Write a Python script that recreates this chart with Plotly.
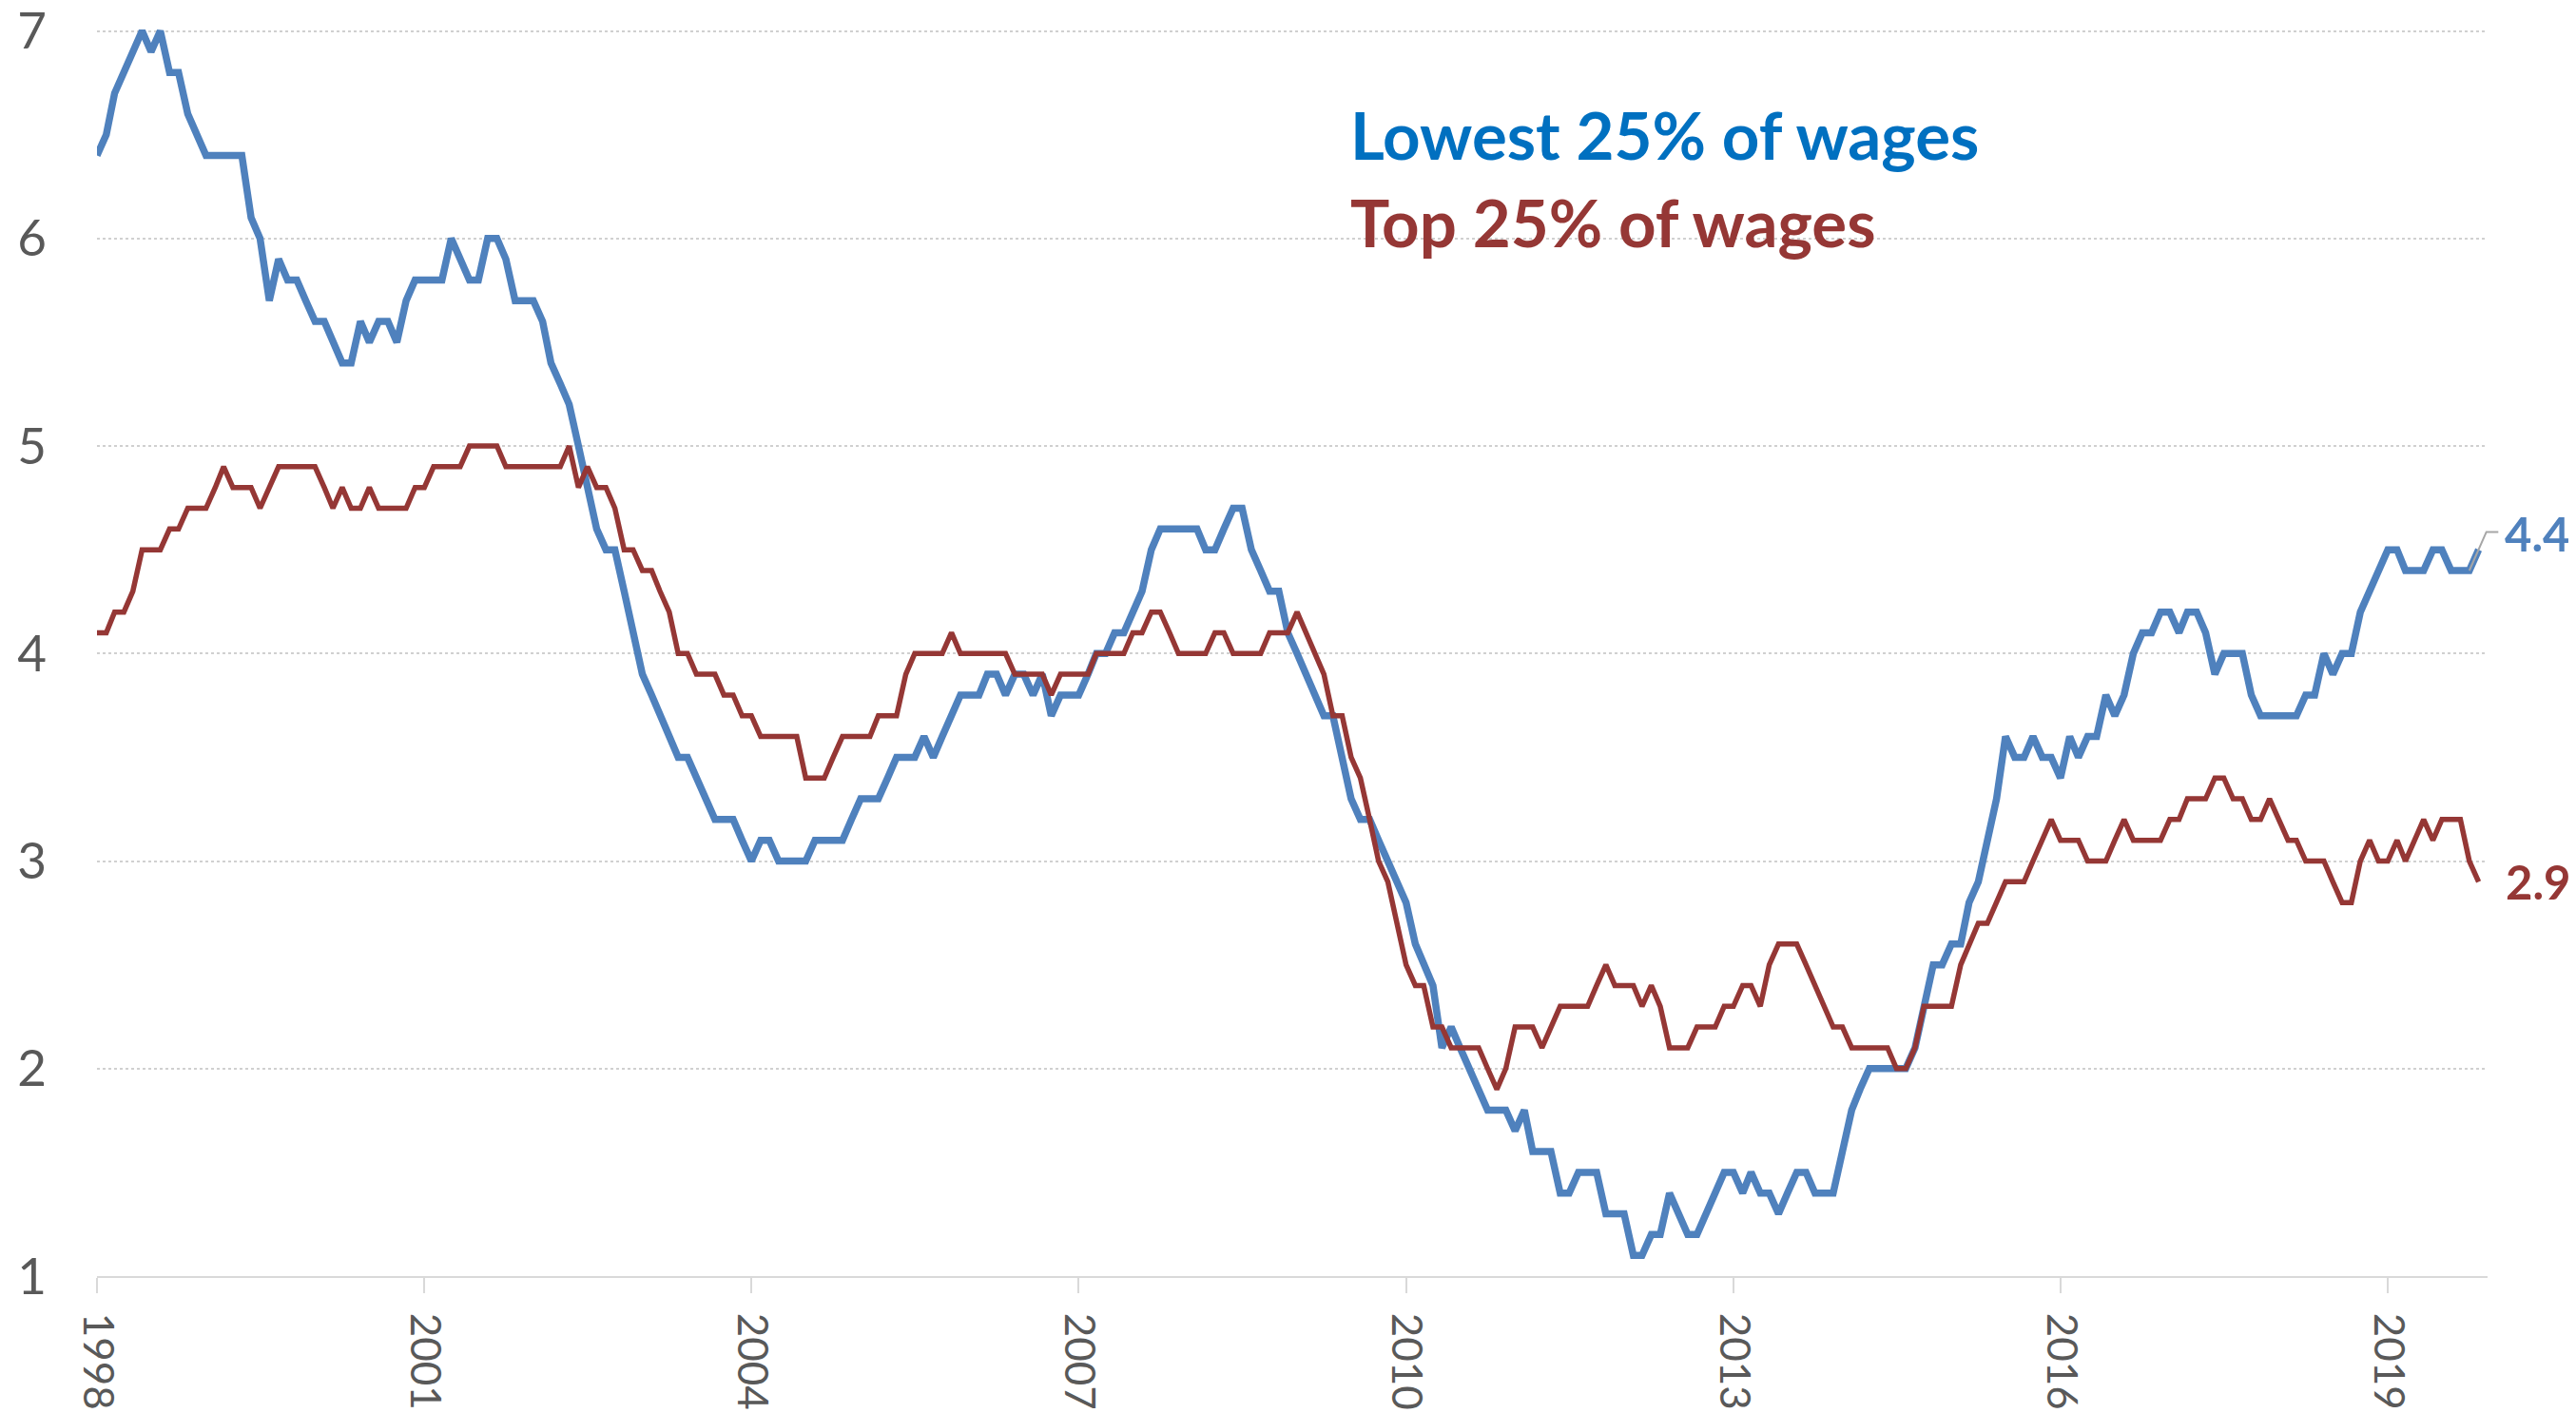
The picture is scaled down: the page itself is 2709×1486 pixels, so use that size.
import pandas as pd
import plotly.graph_objects as go

# monthly series, Jan 1998 - Nov 2019
months = pd.date_range("1998-01-01", periods=263, freq="MS")

lowest_25 = [
    6.4, 6.5, 6.7, 6.8, 6.9, 7.0, 6.9, 7.0, 6.8, 6.8, 6.6, 6.5,  # 1998
    6.4, 6.4, 6.4, 6.4, 6.4, 6.1, 6.0, 5.7, 5.9, 5.8, 5.8, 5.7,  # 1999
    5.6, 5.6, 5.5, 5.4, 5.4, 5.6, 5.5, 5.6, 5.6, 5.5, 5.7, 5.8,  # 2000
    5.8, 5.8, 5.8, 6.0, 5.9, 5.8, 5.8, 6.0, 6.0, 5.9, 5.7, 5.7,  # 2001
    5.7, 5.6, 5.4, 5.3, 5.2, 5.0, 4.8, 4.6, 4.5, 4.5, 4.3, 4.1,  # 2002
    3.9, 3.8, 3.7, 3.6, 3.5, 3.5, 3.4, 3.3, 3.2, 3.2, 3.2, 3.1,  # 2003
    3.0, 3.1, 3.1, 3.0, 3.0, 3.0, 3.0, 3.1, 3.1, 3.1, 3.1, 3.2,  # 2004
    3.3, 3.3, 3.3, 3.4, 3.5, 3.5, 3.5, 3.6, 3.5, 3.6, 3.7, 3.8,  # 2005
    3.8, 3.8, 3.9, 3.9, 3.8, 3.9, 3.9, 3.8, 3.9, 3.7, 3.8, 3.8,  # 2006
    3.8, 3.9, 4.0, 4.0, 4.1, 4.1, 4.2, 4.3, 4.5, 4.6, 4.6, 4.6,  # 2007
    4.6, 4.6, 4.5, 4.5, 4.6, 4.7, 4.7, 4.5, 4.4, 4.3, 4.3, 4.1,  # 2008
    4.0, 3.9, 3.8, 3.7, 3.7, 3.5, 3.3, 3.2, 3.2, 3.1, 3.0, 2.9,  # 2009
    2.8, 2.6, 2.5, 2.4, 2.1, 2.2, 2.1, 2.0, 1.9, 1.8, 1.8, 1.8,  # 2010
    1.7, 1.8, 1.6, 1.6, 1.6, 1.4, 1.4, 1.5, 1.5, 1.5, 1.3, 1.3,  # 2011
    1.3, 1.1, 1.1, 1.2, 1.2, 1.4, 1.3, 1.2, 1.2, 1.3, 1.4, 1.5,  # 2012
    1.5, 1.4, 1.5, 1.4, 1.4, 1.3, 1.4, 1.5, 1.5, 1.4, 1.4, 1.4,  # 2013
    1.6, 1.8, 1.9, 2.0, 2.0, 2.0, 2.0, 2.0, 2.1, 2.3, 2.5, 2.5,  # 2014
    2.6, 2.6, 2.8, 2.9, 3.1, 3.3, 3.6, 3.5, 3.5, 3.6, 3.5, 3.5,  # 2015
    3.4, 3.6, 3.5, 3.6, 3.6, 3.8, 3.7, 3.8, 4.0, 4.1, 4.1, 4.2,  # 2016
    4.2, 4.1, 4.2, 4.2, 4.1, 3.9, 4.0, 4.0, 4.0, 3.8, 3.7, 3.7,  # 2017
    3.7, 3.7, 3.7, 3.8, 3.8, 4.0, 3.9, 4.0, 4.0, 4.2, 4.3, 4.4,  # 2018
    4.5, 4.5, 4.4, 4.4, 4.4, 4.5, 4.5, 4.4, 4.4, 4.4, 4.5,       # 2019
]

top_25 = [
    4.1, 4.1, 4.2, 4.2, 4.3, 4.5, 4.5, 4.5, 4.6, 4.6, 4.7, 4.7,  # 1998
    4.7, 4.8, 4.9, 4.8, 4.8, 4.8, 4.7, 4.8, 4.9, 4.9, 4.9, 4.9,  # 1999
    4.9, 4.8, 4.7, 4.8, 4.7, 4.7, 4.8, 4.7, 4.7, 4.7, 4.7, 4.8,  # 2000
    4.8, 4.9, 4.9, 4.9, 4.9, 5.0, 5.0, 5.0, 5.0, 4.9, 4.9, 4.9,  # 2001
    4.9, 4.9, 4.9, 4.9, 5.0, 4.8, 4.9, 4.8, 4.8, 4.7, 4.5, 4.5,  # 2002
    4.4, 4.4, 4.3, 4.2, 4.0, 4.0, 3.9, 3.9, 3.9, 3.8, 3.8, 3.7,  # 2003
    3.7, 3.6, 3.6, 3.6, 3.6, 3.6, 3.4, 3.4, 3.4, 3.5, 3.6, 3.6,  # 2004
    3.6, 3.6, 3.7, 3.7, 3.7, 3.9, 4.0, 4.0, 4.0, 4.0, 4.1, 4.0,  # 2005
    4.0, 4.0, 4.0, 4.0, 4.0, 3.9, 3.9, 3.9, 3.9, 3.8, 3.9, 3.9,  # 2006
    3.9, 3.9, 4.0, 4.0, 4.0, 4.0, 4.1, 4.1, 4.2, 4.2, 4.1, 4.0,  # 2007
    4.0, 4.0, 4.0, 4.1, 4.1, 4.0, 4.0, 4.0, 4.0, 4.1, 4.1, 4.1,  # 2008
    4.2, 4.1, 4.0, 3.9, 3.7, 3.7, 3.5, 3.4, 3.2, 3.0, 2.9, 2.7,  # 2009
    2.5, 2.4, 2.4, 2.2, 2.2, 2.1, 2.1, 2.1, 2.1, 2.0, 1.9, 2.0,  # 2010
    2.2, 2.2, 2.2, 2.1, 2.2, 2.3, 2.3, 2.3, 2.3, 2.4, 2.5, 2.4,  # 2011
    2.4, 2.4, 2.3, 2.4, 2.3, 2.1, 2.1, 2.1, 2.2, 2.2, 2.2, 2.3,  # 2012
    2.3, 2.4, 2.4, 2.3, 2.5, 2.6, 2.6, 2.6, 2.5, 2.4, 2.3, 2.2,  # 2013
    2.2, 2.1, 2.1, 2.1, 2.1, 2.1, 2.0, 2.0, 2.1, 2.3, 2.3, 2.3,  # 2014
    2.3, 2.5, 2.6, 2.7, 2.7, 2.8, 2.9, 2.9, 2.9, 3.0, 3.1, 3.2,  # 2015
    3.1, 3.1, 3.1, 3.0, 3.0, 3.0, 3.1, 3.2, 3.1, 3.1, 3.1, 3.1,  # 2016
    3.2, 3.2, 3.3, 3.3, 3.3, 3.4, 3.4, 3.3, 3.3, 3.2, 3.2, 3.3,  # 2017
    3.2, 3.1, 3.1, 3.0, 3.0, 3.0, 2.9, 2.8, 2.8, 3.0, 3.1, 3.0,  # 2018
    3.0, 3.1, 3.0, 3.1, 3.2, 3.1, 3.2, 3.2, 3.2, 3.0, 2.9,       # 2019
]

series_names = ["Lowest 25% of wages", "Top 25% of wages"]
end_labels = ["4.4", "2.9"]
tick_years = ["1998", "2001", "2004", "2007", "2010", "2013", "2016", "2019"]
y_ticks = [1, 2, 3, 4, 5, 6, 7]

colors = {
    'low': '#4f81bd',
    'top': '#953735',
    'low_text': '#0070c0',
    'axis': '#595959',
    'grid': '#d0d0d0',
}

x_end = pd.Timestamp("2019-12-01")
y_range = [1, 7.03]


def xpaper(t):
    return (t - months[0]) / (x_end - months[0])


def ypaper(v):
    return (v - y_range[0]) / (y_range[1] - y_range[0])


fig = go.Figure()
fig.add_trace(go.Scatter(x=months, y=lowest_25, mode='lines', name=series_names[0],
                         line=dict(color=colors['low'], width=7.5)))
fig.add_trace(go.Scatter(x=months, y=top_25, mode='lines', name=series_names[1],
                         line=dict(color=colors['top'], width=5.5)))

# white box hiding the gridline behind the legend text
fig.add_shape(type='rect', xref='paper', yref='y', x0=0.515, x1=1.0, y0=5.85, y1=6.75,
              fillcolor='white', line_width=0, layer='between')

# legend text in the plot
fig.add_annotation(text='<b>' + series_names[0] + '</b>', xref='paper', yref='y',
                   x=0.5233, y=6.5, xanchor='left', yanchor='middle', showarrow=False,
                   font=dict(family='Lato', size=69, color=colors['low_text']))
fig.add_annotation(text='<b>' + series_names[1] + '</b>', xref='paper', yref='y',
                   x=0.5233, y=6.08, xanchor='left', yanchor='middle', showarrow=False,
                   font=dict(family='Lato', size=69, color=colors['top']))

# end labels
fig.add_annotation(text='<b>' + end_labels[0] + '</b>', xref='paper', yref='y',
                   x=1.0, xshift=16, y=4.58, xanchor='left', yanchor='middle', showarrow=False,
                   font=dict(family='Lato', size=49, color=colors['low']))
fig.add_annotation(text='<b>' + end_labels[1] + '</b>', xref='paper', yref='y',
                   x=1.0, xshift=17, y=2.9, xanchor='left', yanchor='middle', showarrow=False,
                   font=dict(family='Lato', size=49, color=colors['top']))

# leader line from the labelled point to "4.4"
lx0 = xpaper(months[-2])
ly0 = ypaper(lowest_25[-2])
ly1 = ypaper(4.586)
fig.add_shape(type='path', xref='paper', yref='paper',
              path=f'M {lx0},{ly0} L 0.9995,{ly1} L 1.0045,{ly1}',
              line=dict(color='#a6a6a6', width=2))

fig.update_xaxes(
    range=[months[0], x_end],
    tickvals=[pd.Timestamp(y + "-01-01") for y in tick_years],
    ticktext=tick_years,
    tickangle=90,
    ticks='outside', ticklen=16, tickwidth=2, tickcolor='#d9d9d9',
    showline=True, linecolor='#d9d9d9', linewidth=2,
    showgrid=False, zeroline=False, automargin=False,
    ticklabeloverflow='allow',
    tickfont=dict(family='Lato', size=44, color=colors['axis']),
    ticklabelstandoff=12,
)
fig.update_yaxes(
    range=y_range,
    tickvals=y_ticks,
    showgrid=True, gridcolor=colors['grid'], gridwidth=2, griddash='dot',
    zeroline=False, showline=False, ticks='', automargin=False,
    ticklabeloverflow='allow',
    tickfont=dict(family='Lato', size=53, color=colors['axis']),
    ticklabelstandoff=52,
)

# the page puts the figure 8px in from the top-left corner
fig.update_layout(
    width=2701, height=1478,
    margin=dict(l=94, r=93, t=18, b=144),
    plot_bgcolor='white', paper_bgcolor='white',
    showlegend=False,
)

fig.write_html("out.html")
